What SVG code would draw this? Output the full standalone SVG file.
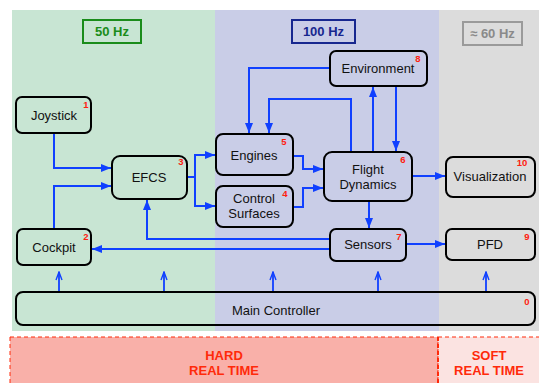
<svg xmlns="http://www.w3.org/2000/svg" width="539" height="383" viewBox="0 0 539 383">
<defs>
<marker id="ah" viewBox="0 0 10 8" refX="10" refY="4" markerWidth="10" markerHeight="8" markerUnits="userSpaceOnUse" orient="auto">
<path d="M0,0 L10,4 L0,8 Z" fill="#1040ff"/>
</marker>
<marker id="oh" viewBox="0 0 10 8" refX="9" refY="4" markerWidth="10" markerHeight="8" markerUnits="userSpaceOnUse" orient="auto">
<path d="M1,1 L9,4 L1,7" fill="none" stroke="#1040ff" stroke-width="1.4"/>
</marker>
</defs>
<style>
.node{fill:none;stroke:#000;stroke-width:2}
.lbl{font-family:"Liberation Sans",Arial,sans-serif;font-size:13px;fill:#111;text-anchor:middle}
.num{font-family:"Liberation Sans",Arial,sans-serif;font-size:9.5px;font-weight:bold;fill:#ff2010;text-anchor:middle}
.c{fill:none;stroke:#1040ff;stroke-width:2;marker-end:url(#ah)}
.u{fill:none;stroke:#1040ff;stroke-width:1.8;marker-end:url(#oh)}
.hz{font-family:"Liberation Sans",Arial,sans-serif;font-size:13px;font-weight:bold;text-anchor:middle}
.rt{font-family:"Liberation Sans",Arial,sans-serif;font-size:13px;font-weight:bold;fill:#ff2a0a;text-anchor:middle}
</style>
<rect width="539" height="383" fill="#fff"/>
<g id="zones">
<rect x="12" y="10" width="203" height="321" fill="#c8e5d3"/>
<rect x="215" y="10" width="224" height="321" fill="#c9cde7"/>
<rect x="439" y="10" width="100" height="321" fill="#dcdcdc"/>
<rect x="83" y="20" width="58" height="23" fill="none" stroke="#1a8c1a" stroke-width="2"/>
<text class="hz" x="112" y="36" fill="#1a8c1a">50 Hz</text>
<rect x="292" y="20" width="63" height="23" fill="none" stroke="#17278f" stroke-width="2"/>
<text class="hz" x="323.5" y="36" fill="#17278f">100 Hz</text>
<rect x="463" y="22" width="59" height="23" fill="none" stroke="#9a9a9a" stroke-width="2"/>
<text class="hz" x="492.5" y="38" fill="#8a8a8a">≈ 60 Hz</text>
<rect x="10" y="337" width="428" height="50" fill="#f9b0a9" stroke="#ff2a0a" stroke-width="1" stroke-dasharray="4,3"/>
<rect x="438" y="337" width="105" height="50" fill="#fbe3e1" stroke="#ff2a0a" stroke-width="1" stroke-dasharray="4,3"/>
<line x1="438" y1="337" x2="438" y2="383" stroke="#ff2a0a" stroke-width="2" stroke-dasharray="4,3"/>
<text class="rt" x="224" y="360">HARD</text>
<text class="rt" x="224" y="375">REAL TIME</text>
<text class="rt" x="489" y="360">SOFT</text>
<text class="rt" x="489" y="375">REAL TIME</text>
</g>
<g id="connectors">
<path class="c" d="M54,133 V168 H111"/>
<path class="c" d="M54,229 V186 H111"/>
<path class="c" d="M187,177 H195 V155 H215"/>
<path class="c" d="M195,177 V206 H215"/>
<path class="c" d="M293,156 H303 V169 H323"/>
<path class="c" d="M293,207 H303 V188 H323"/>
<path class="c" d="M412,176 H445"/>
<path class="c" d="M369,201 V228"/>
<path class="c" d="M406,244 H445"/>
<path class="c" d="M330,249 H92"/>
<path class="c" d="M330,239 H147 V200"/>
<path class="c" d="M330,68 H249 V133"/>
<path class="c" d="M351,152 V99 H269 V133"/>
<path class="c" d="M373,152 V87"/>
<path class="c" d="M396,86 V151"/>
<path class="u" d="M59,292 V272"/>
<path class="u" d="M164,292 V272"/>
<path class="u" d="M273,292 V272"/>
<path class="u" d="M378,292 V272"/>
<path class="u" d="M486,292 V272"/>
</g>
<g id="n0"><rect class="node" x="16" y="292" width="519" height="33" rx="7"/><text class="lbl" x="276" y="315">Main Controller</text><text class="num" x="527" y="305">0</text></g>
<g id="n1"><rect class="node" x="16" y="97" width="75" height="36" rx="6"/><text class="lbl" x="54" y="120">Joystick</text><text class="num" x="86" y="108">1</text></g>
<g id="n2"><rect class="node" x="17" y="229" width="74" height="36" rx="6"/><text class="lbl" x="54" y="252">Cockpit</text><text class="num" x="86" y="240">2</text></g>
<g id="n3"><rect class="node" x="112" y="156" width="75" height="43" rx="8"/><text class="lbl" x="149" y="182">EFCS</text><text class="num" x="181" y="165">3</text></g>
<g id="n5"><rect class="node" x="216" y="134" width="77" height="41" rx="7"/><text class="lbl" x="254" y="160">Engines</text><text class="num" x="284" y="145">5</text></g>
<g id="n4"><rect class="node" x="216" y="186" width="77" height="41" rx="7"/><text class="lbl" x="254" y="203">Control</text><text class="lbl" x="254" y="218">Surfaces</text><text class="num" x="285" y="197">4</text></g>
<g id="n6"><rect class="node" x="324" y="152" width="88" height="49" rx="8"/><text class="lbl" x="368" y="174">Flight</text><text class="lbl" x="368" y="189">Dynamics</text><text class="num" x="403" y="163">6</text></g>
<g id="n8"><rect class="node" x="330" y="51" width="97" height="35" rx="6"/><text class="lbl" x="378" y="73">Environment</text><text class="num" x="418" y="62">8</text></g>
<g id="n7"><rect class="node" x="330" y="229" width="76" height="32" rx="6"/><text class="lbl" x="368" y="249">Sensors</text><text class="num" x="399" y="240">7</text></g>
<g id="n10"><rect class="node" x="446" y="157" width="89" height="40" rx="7"/><text class="lbl" x="490" y="181">Visualization</text><text class="num" x="522" y="166">10</text></g>
<g id="n9"><rect class="node" x="446" y="229" width="89" height="31" rx="6"/><text class="lbl" x="490" y="249">PFD</text><text class="num" x="527" y="240">9</text></g>
</svg>
